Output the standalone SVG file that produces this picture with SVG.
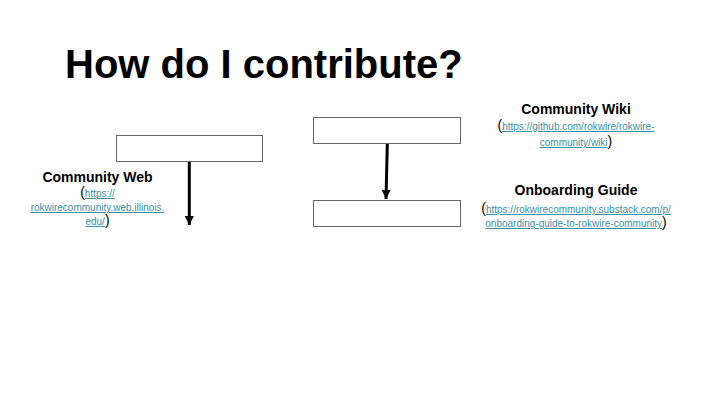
<svg xmlns="http://www.w3.org/2000/svg" width="720" height="405" viewBox="0 0 720 405">
  <defs>
    <style>
      .title { font-family: "Liberation Sans", Arial, sans-serif; font-weight: bold; font-size: 40px; fill: #000; }
      .head { font-family: "Liberation Sans", Arial, sans-serif; font-weight: bold; font-size: 14px; fill: #000; text-anchor: middle; }
      .ref { font-family: "Liberation Sans", Arial, sans-serif; font-size: 10px; fill: #3a8fa5; text-anchor: middle; }
      .link { text-decoration: underline; }
      .par { font-size: 14px; fill: #000; }
      .box { fill: #fff; stroke: #666; stroke-width: 1; }
      .conn { stroke: #000; stroke-width: 3; fill: none; }
    </style>
    <marker id="arrow" viewBox="0 0 10 10" refX="10" refY="5" markerWidth="3" markerHeight="3" markerUnits="strokeWidth" orient="auto">
      <path d="M0,0 L10,5 L0,10 z" fill="#000"/>
    </marker>
  </defs>

  <rect width="720" height="405" fill="#fff"/>

  <text class="title" x="65" y="78">How do I contribute?</text>

  <g id="box-web">
    <rect class="box" x="116.5" y="135.5" width="146" height="26"/>
  </g>
  <g id="box-wiki">
    <rect class="box" x="313.5" y="117.5" width="147" height="26"/>
  </g>
  <g id="box-guide">
    <rect class="box" x="313.5" y="200.5" width="147" height="26"/>
  </g>

  <g id="connectors">
    <line class="conn" x1="189.3" y1="162" x2="189.3" y2="225" marker-end="url(#arrow)"/>
    <line class="conn" x1="387.3" y1="144" x2="386" y2="199" marker-end="url(#arrow)"/>
  </g>

  <g id="label-web">
    <text class="head" x="97.5" y="182">Community Web</text>
    <text class="ref" x="97.5" y="197"><tspan class="par">(</tspan><tspan class="link">https://</tspan></text>
    <text class="ref" x="97.5" y="211"><tspan class="link">rokwirecommunity.web.illinois.</tspan></text>
    <text class="ref" x="97.5" y="225"><tspan class="link">edu/</tspan><tspan class="par">)</tspan></text>
  </g>

  <g id="label-wiki">
    <text class="head" x="576" y="114">Community Wiki</text>
    <text class="ref" x="576" y="130"><tspan class="par">(</tspan><tspan class="link">https://github.com/rokwire/rokwire-</tspan></text>
    <text class="ref" x="576" y="146"><tspan class="link">community/wiki</tspan><tspan class="par">)</tspan></text>
  </g>

  <g id="label-guide">
    <text class="head" x="576" y="195">Onboarding Guide</text>
    <text class="ref" x="576" y="213"><tspan class="par">(</tspan><tspan class="link">https://rokwirecommunity.substack.com/p/</tspan></text>
    <text class="ref" x="576" y="227"><tspan class="link">onboarding-guide-to-rokwire-community</tspan><tspan class="par">)</tspan></text>
  </g>
</svg>
